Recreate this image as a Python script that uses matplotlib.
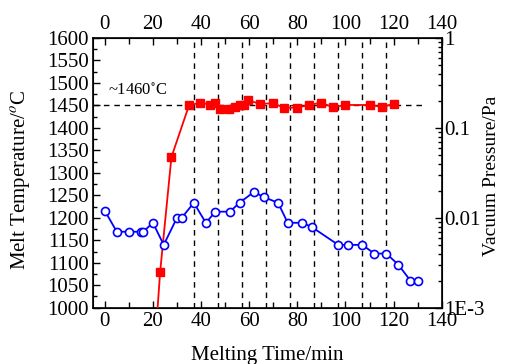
import numpy as np
import matplotlib
matplotlib.use("Agg")
import matplotlib.pyplot as plt
from matplotlib.ticker import MultipleLocator, LogLocator, FixedLocator, FixedFormatter

plt.rcParams['font.family'] = ['Liberation Serif', 'DejaVu Serif']
plt.rcParams['mathtext.fontset'] = 'stix'

# melt temperature (left axis)
temp_time = [20, 23, 27.7, 35, 39.6, 43.7, 45.7, 47.8, 51.7, 54, 56, 58, 59.6, 64.5,
             69.7, 74.6, 79.7, 85, 89.7, 95, 100, 110, 115, 120]
temp_vals = [850, 1079, 1335, 1450, 1456, 1452, 1456, 1443, 1443, 1447, 1450, 1450, 1462, 1453,
             1455, 1445, 1445, 1451, 1456, 1446, 1451, 1451, 1447, 1453]

# vacuum pressure (right axis, log)
pres_time = [0, 5, 10, 15, 16, 20, 24.5, 30, 32, 37, 42, 46, 52, 56, 62, 66, 72, 76, 82, 86,
             97, 101, 107, 112, 117, 122, 127, 130]
pres_vals = [0.012, 0.007, 0.007, 0.007, 0.007, 0.0088, 0.005, 0.01, 0.01, 0.0147, 0.0088,
             0.0117, 0.0117, 0.0147, 0.0194, 0.017, 0.0147, 0.0088, 0.0088, 0.0079,
             0.005, 0.005, 0.005, 0.004, 0.004, 0.003, 0.002, 0.002]

stage_lines = [37, 47, 57, 67, 77, 87, 97, 107, 117]
plateau = 1452

fig = plt.figure(figsize=(5.05, 3.64), dpi=100)
ax = fig.add_axes([0.1836, 0.1547, 0.6911, 0.7409])
ax2 = ax.twinx()

for x in stage_lines:
    ax.axvline(x, color='black', ls=(0, (4, 3.5)), lw=1)
ax.plot([-5, 133], [plateau, plateau], color='black', ls=(0, (4, 3.5)), lw=1)

ax.plot(temp_time, temp_vals, color='#ff0000', lw=1.3, marker='s', ms=6,
        mfc='#ff0000', mec='#ff0000', zorder=3)
ax2.plot(pres_time, pres_vals, color='#0000ff', lw=1.3, marker='o', ms=5.8,
         mfc='white', mec='#0000ff', mew=1.2, zorder=3)

ax.text(1.5, 1464, '~1460$^{\\circ}$C', fontsize=12, va='bottom', ha='left')

ax.set_xlim(-5, 140)
ax.set_ylim(1000, 1600)
ax2.set_ylim(1e-3, 1)
ax2.set_yscale('log')

ax.xaxis.set_major_locator(MultipleLocator(20))
ax.xaxis.set_minor_locator(MultipleLocator(10))
ax.yaxis.set_major_locator(MultipleLocator(50))
ax.yaxis.set_minor_locator(MultipleLocator(25))
ax2.yaxis.set_major_locator(FixedLocator([1e-3, 1e-2, 1e-1, 1]))
ax2.yaxis.set_major_formatter(FixedFormatter(['1E-3', '0.01', '0.1', '1']))
ax2.yaxis.set_minor_locator(LogLocator(base=10, subs=np.arange(2, 10)))

ax.tick_params(axis='x', which='both', direction='in', top=True, labeltop=True,
               labelsize=15, length=5, width=1, pad=3)
ax.tick_params(axis='x', which='minor', length=4)
ax.tick_params(axis='y', which='both', direction='in', labelsize=15, width=1, length=5, pad=3)
ax.tick_params(axis='y', which='minor', length=3)
ax2.tick_params(axis='y', which='both', direction='in', labelsize=15, width=1, length=5, pad=2)
ax2.tick_params(axis='y', which='minor', length=3)

for sp in ax.spines.values():
    sp.set_linewidth(1.2)

ax.set_xlabel('Melting Time/min', fontsize=15, labelpad=11)
ax.set_ylabel('Melt Temperature/$^o$C', fontsize=15)
ax2.set_ylabel('Vacuum Pressure/Pa', fontsize=14)
ax.yaxis.set_label_coords(-0.17, 0.473)
ax2.yaxis.set_label_coords(1.118, 0.488)

fig.savefig('out.png', dpi=100)
